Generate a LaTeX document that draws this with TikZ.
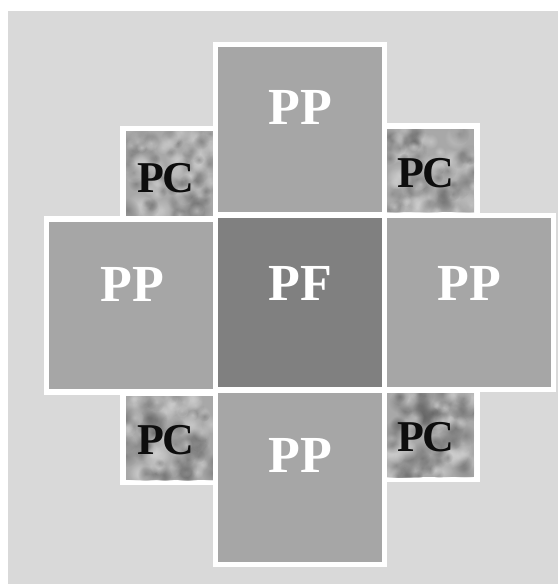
\documentclass[tikz,border=0pt]{standalone}
\usepackage{fontspec}
\setmainfont{Liberation Serif}
\usetikzlibrary{fadings}
\tikzfading[name=softblob, inner color=transparent!0, outer color=transparent!100]
\definecolor{bgc}{HTML}{D9D9D9}
\definecolor{ppc}{HTML}{A6A6A6}
\definecolor{pfc}{HTML}{808080}
\definecolor{pcc}{HTML}{A8A8A8}
\definecolor{pclight}{HTML}{D2D2D2}
\definecolor{pcdark}{HTML}{5E5E5E}
\tikzset{
  outer/.style={fill=white},
  ppfill/.style={fill=ppc},
  pffill/.style={fill=pfc},
  bigtxt/.style={text=white, font=\fontsize{52}{52}\selectfont\bfseries, inner sep=0pt},
  pctxt/.style={text=black!95, font=\fontsize{44}{44}\selectfont\bfseries, inner sep=0pt},
}
\newcommand\pcpatch[4]{%
  \begin{scope}
    \clip (#1,#2) rectangle (#3,#4);
    \fill[pcc] (#1,#2) rectangle (#3,#4);
    \foreach \k in {1,...,110}{
      \pgfmathsetmacro{\rx}{#1+rnd*(#3-#1)}
      \pgfmathsetmacro{\ry}{#2+rnd*(#4-#2)}
      \pgfmathsetmacro{\rr}{5+rnd*8}
      \pgfmathtruncatemacro{\sh}{rnd*100}
      \ifnum\sh<50
        \fill[pclight, path fading=softblob, opacity=0.6] (\rx,\ry) circle (\rr);
      \else
        \fill[pcdark, path fading=softblob, opacity=0.45] (\rx,\ry) circle (\rr);
      \fi
    }
  \end{scope}}
\begin{document}
\begin{tikzpicture}[x=1pt,y=-1pt]
\pgfmathsetseed{12345}
\useasboundingbox (0,0) rectangle (558,584);
\fill[white] (0,0) rectangle (558,584);
\fill[bgc] (8,11) rectangle (558,584);
% PC tiles
\fill[outer] (120,126) rectangle (218,222);
\pcpatch{126}{131}{213}{216}
\fill[outer] (382,123) rectangle (480,218);
\pcpatch{387}{129}{474}{212}
\fill[outer] (120,389) rectangle (218,485);
\pcpatch{126}{396}{213}{480}
\fill[outer] (382,387) rectangle (480,482);
\pcpatch{387}{393}{474}{477}
% PP and PF
\fill[outer] (213,42) rectangle (387,217);
\fill[ppfill] (218,47) rectangle (382,212);
\fill[outer] (44,216) rectangle (218,395);
\fill[ppfill] (49,222) rectangle (213,389);
\fill[outer] (382,213) rectangle (556,392);
\fill[ppfill] (387,218) rectangle (551,387);
\fill[outer] (213,387) rectangle (387,567);
\fill[ppfill] (218,393) rectangle (382,562);
\fill[outer] (213,213) rectangle (387,392);
\fill[pffill] (218,218) rectangle (382,387);
% labels
\node[bigtxt] (ppt) at (300,107) {PP};
\node[bigtxt] (ppl) at (132,284) {PP};
\node[bigtxt] (pf) at (300,283) {PF};
\node[bigtxt] (ppr) at (469,283) {PP};
\node[bigtxt] (ppb) at (300,455) {PP};
\node[pctxt] (pctl) at (166,178) {P\kern-2.5ptC};
\node[pctxt] (pctr) at (426,173) {P\kern-2.5ptC};
\node[pctxt] (pcbl) at (166,440) {P\kern-2.5ptC};
\node[pctxt] (pcbr) at (426,437) {P\kern-2.5ptC};
\end{tikzpicture}
\end{document}
